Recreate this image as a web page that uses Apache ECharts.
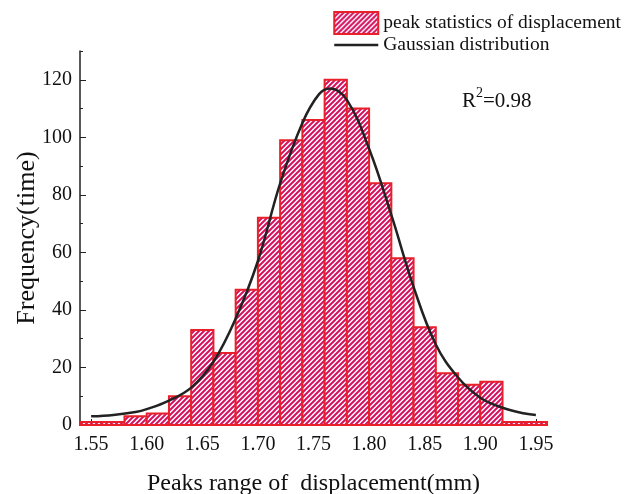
<!DOCTYPE html>
<html>
<head>
<meta charset="utf-8">
<script src="https://cdn.jsdelivr.net/npm/echarts@6/dist/echarts.min.js"></script>
<style>
  html, body { margin: 0; padding: 0; background: #fff; }
  #main { width: 638px; height: 494px; }
</style>
</head>
<body>
<div id="main"></div>
<script>
// bin edges (mm) of the histogram
var binEdges = [1.54, 1.56, 1.58, 1.60, 1.62, 1.64, 1.66, 1.68, 1.70, 1.72, 1.74,
                1.76, 1.78, 1.80, 1.82, 1.84, 1.86, 1.88, 1.90, 1.92, 1.94, 1.96];
// counts per bin
var counts = [1, 1, 3, 4, 10, 33, 25, 47, 72, 99, 106, 120, 110, 84, 58, 34, 18, 14, 15, 1, 1];

// fitted gaussian
var fitX = [1.55, 1.57, 1.59, 1.60, 1.62, 1.64, 1.66, 1.68, 1.70, 1.72, 1.74, 1.755, 1.765,
            1.78, 1.80, 1.82, 1.84, 1.86, 1.88, 1.90, 1.92, 1.94, 1.95];
var fitY = [3.0, 3.5, 4.5, 5.5, 8.5, 13, 22, 37, 57, 84, 105, 115, 117,
            113, 96, 73, 48, 28, 16.5, 9.5, 6, 4, 3.5];

var xTicks = [1.55, 1.60, 1.65, 1.70, 1.75, 1.80, 1.85, 1.90, 1.95];
var xMinorTicks = [1.575, 1.625, 1.675, 1.725, 1.775, 1.825, 1.875, 1.925];
var yTicks = [0, 20, 40, 60, 80, 100, 120];
var yMinorTicks = [10, 30, 50, 70, 90, 110, 130];

var FONT = '"Liberation Serif", "Times New Roman", serif';

// hatch pattern "///"
var tile = document.createElement('canvas');
tile.width = 5; tile.height = 5;
var g = tile.getContext('2d');
g.fillStyle = '#ffffff';
g.fillRect(0, 0, 5, 5);
g.strokeStyle = '#d6105f';
g.lineWidth = 2;
g.beginPath();
g.moveTo(-1, 6); g.lineTo(6, -1);
g.moveTo(-1, 1); g.lineTo(1, -1);
g.moveTo(4, 6); g.lineTo(6, 4);
g.stroke();
var hatch = { image: tile, repeat: 'repeat' };

var barData = [];
for (var i = 0; i < counts.length; i++) {
    barData.push([binEdges[i], binEdges[i + 1], counts[i]]);
}
var lineData = [];
for (var j = 0; j < fitX.length; j++) {
    lineData.push([fitX[j], fitY[j]]);
}

var chart = echarts.init(document.getElementById('main'));

var option = {
    backgroundColor: '#fff',
    animation: false,
    grid: { left: 80, right: 91, top: 51, bottom: 69, containLabel: false, outerBoundsMode: 'none' },
    legend: {
        orient: 'vertical',
        left: 333, top: 11,
        padding: 0,
        itemWidth: 44, itemHeight: 22, itemGap: 0,
        textStyle: { fontFamily: FONT, fontSize: 19.5, color: '#111' },
        data: [
            { name: 'peak statistics of displacement', icon: 'rect',
              itemStyle: { color: hatch, borderColor: '#e8202a', borderWidth: 2 } },
            { name: 'Gaussian distribution',
              itemStyle: { color: 'rgba(0,0,0,0)', borderWidth: 0, opacity: 0 },
              lineStyle: { color: '#222', width: 2.5 } }
        ]
    },
    xAxis: [{
        type: 'value', min: 1.54, max: 1.96,
        name: 'Peaks range of  displacement(mm)',
        nameLocation: 'middle', nameGap: 47,
        nameTextStyle: { fontFamily: FONT, fontSize: 24, color: '#111' },
        axisLine: { lineStyle: { color: '#222', width: 1.5 } },
        axisTick: { inside: true, length: 6, customValues: xTicks, lineStyle: { color: '#222' } },
        axisLabel: { customValues: xTicks, fontFamily: FONT, fontSize: 20, color: '#111', margin: 10,
                     formatter: function (v) { return v.toFixed(2); } },
        splitLine: { show: false }
    }, {
        type: 'value', min: 1.54, max: 1.96, position: 'bottom',
        axisLine: { show: false },
        axisTick: { inside: true, length: 3, customValues: xMinorTicks, lineStyle: { color: '#222' } },
        axisLabel: { show: false },
        splitLine: { show: false }
    }],
    yAxis: [{
        type: 'value', min: 0, max: 130,
        name: 'Frequency(time)',
        nameLocation: 'middle', nameGap: 40, nameMoveOverlap: false,
        nameTextStyle: { fontFamily: FONT, fontSize: 26, color: '#111' },
        axisLine: { show: true, lineStyle: { color: '#222', width: 1.5 } },
        axisTick: { show: true, inside: true, length: 6, customValues: yTicks, lineStyle: { color: '#222' } },
        axisLabel: { customValues: yTicks, fontFamily: FONT, fontSize: 20, color: '#111', margin: 8 },
        splitLine: { show: false }
    }, {
        type: 'value', min: 0, max: 130, position: 'left',
        axisLine: { show: false },
        axisTick: { show: true, inside: true, length: 3, customValues: yMinorTicks, lineStyle: { color: '#222' } },
        axisLabel: { show: false },
        splitLine: { show: false }
    }],
    graphic: [{
        type: 'text', left: 462, top: 86,
        style: {
            text: '{r|R}{s|2}{r|=0.98}',
            rich: {
                r: { fontFamily: FONT, fontSize: 21, fill: '#111', verticalAlign: 'bottom', lineHeight: 26 },
                s: { fontFamily: FONT, fontSize: 14, fill: '#111', verticalAlign: 'top', lineHeight: 26, padding: [0, 0, 8, 0] }
            }
        }
    }],
    series: [{
        name: 'peak statistics of displacement',
        type: 'custom',
        xAxisIndex: 0, yAxisIndex: 0,
        itemStyle: { color: hatch, borderColor: '#e8202a', borderWidth: 2 },
        encode: { x: [0, 1], y: 2 },
        renderItem: function (params, api) {
            var p0 = api.coord([api.value(0), api.value(2)]);
            var p1 = api.coord([api.value(1), 0]);
            return {
                type: 'rect',
                shape: { x: p0[0], y: p0[1], width: p1[0] - p0[0], height: p1[1] - p0[1] },
                style: { fill: hatch, stroke: '#e8202a', lineWidth: 2 }
            };
        },
        data: barData,
        z: 2
    }, {
        name: 'Gaussian distribution',
        type: 'line',
        xAxisIndex: 0, yAxisIndex: 0,
        smooth: 0.4,
        symbol: 'none',
        lineStyle: { color: '#222', width: 2.5 },
        itemStyle: { color: '#222' },
        data: lineData,
        z: 3
    }]
};

chart.setOption(option);
</script>
</body>
</html>
